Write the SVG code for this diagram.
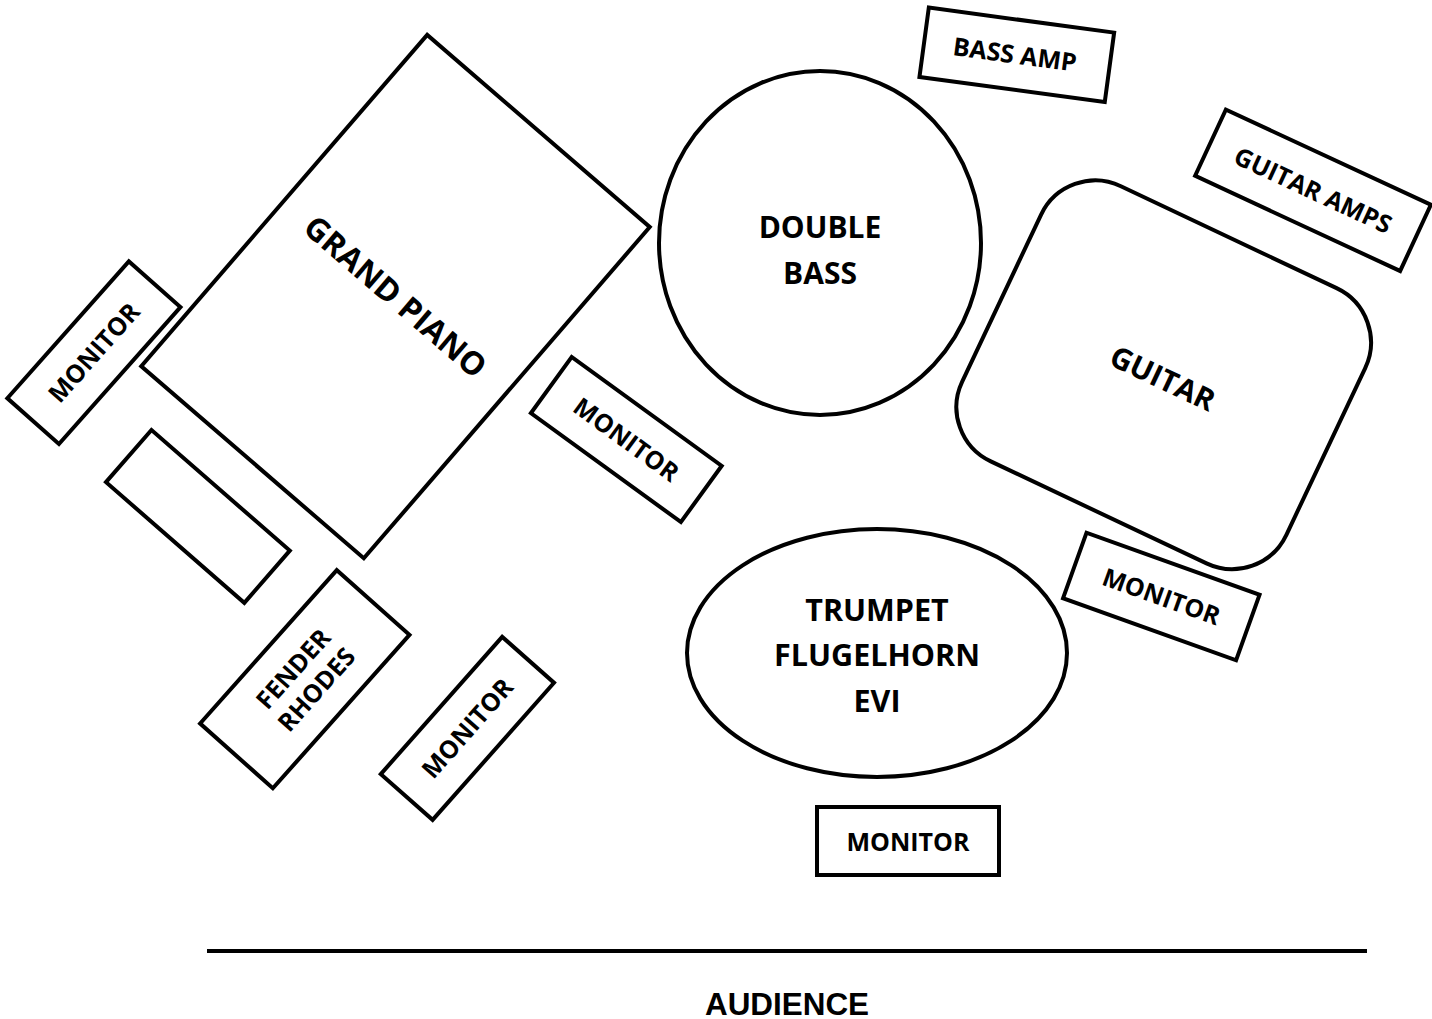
<svg xmlns="http://www.w3.org/2000/svg" width="1432" height="1019" viewBox="0 0 1432 1019">
<style>
.s{fill:#fff;stroke:#000;stroke-width:4}
.t{font-family:"Open Sans","Noto Sans","Liberation Sans",sans-serif;font-weight:bold;fill:#000;text-anchor:middle}
.sm{font-size:25px}
.lg{font-size:30px}
.aud{font-family:"Liberation Sans",Arial,sans-serif;font-weight:bold;font-size:31.5px;fill:#000;text-anchor:middle}
</style>
<rect width="1432" height="1019" fill="#fff"/>
<g id="grand-piano" transform="translate(395.5,296.6) rotate(40.8)">
<rect class="s" x="-147" y="-218.8" width="294" height="437.6"/>
<text class="t" font-size="32" x="0" y="11.4">GRAND PIANO</text>
</g>
<g id="monitor-piano-left" transform="translate(93.9,352.7) rotate(-48.4)">
<rect class="s" x="-91.5" y="-34.5" width="183" height="69"/>
<text class="t sm" x="0" y="8.9">MONITOR</text>
</g>
<g id="keyboard-blank" transform="translate(197.9,516.4) rotate(41.1)">
<rect class="s" x="-91.8" y="-34.6" width="183.6" height="69.2"/>
</g>
<g id="fender-rhodes" transform="translate(304.8,679.2) rotate(-48.3)">
<rect class="s" x="-102.7" y="-48.7" width="205.4" height="97.4"/>
<text class="t sm" x="0" y="-6.6">FENDER</text>
<text class="t sm" x="0" y="24.4">RHODES</text>
</g>
<g id="monitor-rhodes" transform="translate(467.4,728.4) rotate(-48.5)">
<rect class="s" x="-91.6" y="-34.6" width="183.2" height="69.2"/>
<text class="t sm" x="0" y="8.9">MONITOR</text>
</g>
<g id="monitor-center" transform="translate(626.3,439.5) rotate(36)">
<rect class="s" x="-92.7" y="-34.7" width="185.4" height="69.4"/>
<text class="t sm" x="0" y="8.9">MONITOR</text>
</g>
<g id="double-bass">
<ellipse class="s" cx="820" cy="243" rx="161" ry="172"/>
<text class="t lg" x="820" y="238">DOUBLE</text>
<text class="t lg" x="820" y="284">BASS</text>
</g>
<g id="bass-amp" transform="translate(1016.8,54.8) rotate(7.7)">
<rect class="s" x="-93.5" y="-35" width="187" height="70"/>
<text class="t sm" x="-2" y="8.9">BASS AMP</text>
</g>
<g id="guitar-amps" transform="translate(1313,190.3) rotate(24.9)">
<rect class="s" x="-113" y="-36.5" width="226" height="73"/>
<text class="t sm" x="0" y="8.9">GUITAR AMPS</text>
</g>
<g id="guitar" transform="translate(1163.7,374.8) rotate(25.3)">
<rect class="s" x="-179.3" y="-152.2" width="358.6" height="304.4" rx="60" ry="60"/>
<text class="t lg" x="0.6" y="14.3">GUITAR</text>
</g>
<g id="monitor-guitar" transform="translate(1161.3,596.5) rotate(19.7)">
<rect class="s" x="-91.9" y="-34.8" width="183.8" height="69.6"/>
<text class="t sm" x="0" y="8.9">MONITOR</text>
</g>
<g id="trumpet">
<ellipse class="s" cx="877" cy="653" rx="190" ry="124"/>
<text class="t" font-size="30.5" x="877" y="621">TRUMPET</text>
<text class="t" font-size="30.5" x="877" y="666">FLUGELHORN</text>
<text class="t" font-size="30.5" x="877" y="712">EVI</text>
</g>
<g id="monitor-trumpet">
<rect class="s" x="817" y="807" width="182" height="68"/>
<text class="t sm" x="908" y="851">MONITOR</text>
</g>
<g id="connectors"></g>
<g id="audience">
<line x1="207" y1="951" x2="1367" y2="951" stroke="#000" stroke-width="4"/>
<text class="aud" x="787" y="1015" textLength="164" lengthAdjust="spacingAndGlyphs">AUDIENCE</text>
</g>
</svg>
